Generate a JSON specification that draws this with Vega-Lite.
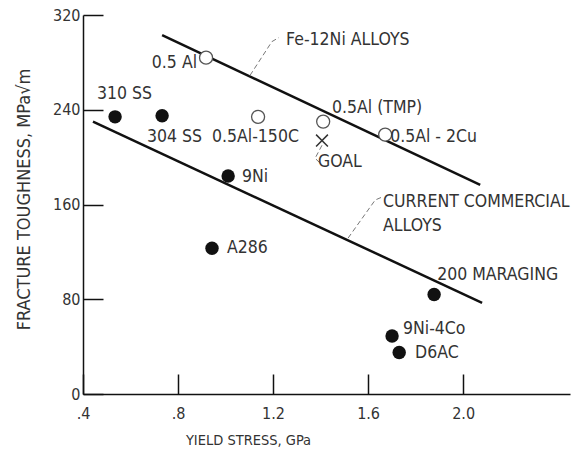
{
  "$schema": "https://vega.github.io/schema/vega-lite/v6.json",
  "width": 487,
  "height": 379,
  "autosize": {"type": "none"},
  "padding": {"left": 83, "top": 15, "right": 13, "bottom": 57},
  "background": "white",
  "config": {
    "view": {"stroke": null},
    "font": "DejaVu Sans Condensed, Liberation Sans, sans-serif",
    "axis": {
      "grid": false,
      "domainColor": "#111",
      "domainWidth": 1.5,
      "tickColor": "#111",
      "tickWidth": 1.5,
      "tickSize": -20,
      "labelFont": "DejaVu Sans Condensed, Liberation Sans, sans-serif",
      "labelFontSize": 16,
      "labelColor": "#333",
      "titleFont": "DejaVu Sans Condensed, Liberation Sans, sans-serif",
      "titleFontWeight": "normal",
      "titleColor": "#333"
    }
  },
  "datasets": {
    "points": [
      {"name": "310 SS", "stress": 0.535, "toughness": 234, "kind": "filled"},
      {"name": "304 SS", "stress": 0.733, "toughness": 235, "kind": "filled"},
      {"name": "9Ni", "stress": 1.011, "toughness": 184, "kind": "filled"},
      {"name": "A286", "stress": 0.943, "toughness": 123, "kind": "filled"},
      {"name": "200 MARAGING", "stress": 1.878, "toughness": 84, "kind": "filled"},
      {"name": "9Ni-4Co", "stress": 1.701, "toughness": 49, "kind": "filled"},
      {"name": "D6AC", "stress": 1.731, "toughness": 35, "kind": "filled"},
      {"name": "0.5 Al", "stress": 0.918, "toughness": 284, "kind": "open"},
      {"name": "0.5Al-150C", "stress": 1.137, "toughness": 234, "kind": "open"},
      {"name": "0.5Al (TMP)", "stress": 1.411, "toughness": 230, "kind": "open"},
      {"name": "0.5Al-2Cu", "stress": 1.672, "toughness": 219, "kind": "open"},
      {"name": "GOAL", "stress": 1.406, "toughness": 214, "kind": "goal"}
    ],
    "trends": [
      {"series": "Fe-12Ni alloys", "stress": 0.733, "toughness": 303},
      {"series": "Fe-12Ni alloys", "stress": 2.072, "toughness": 176.5},
      {"series": "Current commercial alloys", "stress": 0.442, "toughness": 230},
      {"series": "Current commercial alloys", "stress": 2.08, "toughness": 77}
    ],
    "leaders": [
      {"group": "fe", "order": 1, "stress": 1.103, "toughness": 269},
      {"group": "fe", "order": 2, "stress": 1.195, "toughness": 297.5},
      {"group": "fe", "order": 3, "stress": 1.225, "toughness": 301},
      {"group": "cc", "order": 1, "stress": 1.516, "toughness": 131.7},
      {"group": "cc", "order": 2, "stress": 1.63, "toughness": 163.8},
      {"group": "cc", "order": 3, "stress": 1.659, "toughness": 166.3},
      {"group": "goal", "order": 1, "stress": 1.406, "toughness": 210},
      {"group": "goal", "order": 2, "stress": 1.377, "toughness": 199},
      {"group": "goal", "order": 3, "stress": 1.398, "toughness": 195}
    ],
    "labels": [
      {"text": "0.5 Al", "stress": 0.88, "toughness": 279.5, "anchor": "right"},
      {"text": "310 SS", "stress": 0.459, "toughness": 253.3, "anchor": "left"},
      {"text": "304 SS", "stress": 0.669, "toughness": 217, "anchor": "left"},
      {"text": "0.5Al-150C", "stress": 0.943, "toughness": 217, "anchor": "left"},
      {"text": "9Ni", "stress": 1.069, "toughness": 183, "anchor": "left"},
      {"text": "Fe-12Ni ALLOYS", "stress": 1.255, "toughness": 299, "anchor": "left"},
      {"text": "0.5Al (TMP)", "stress": 1.448, "toughness": 241.5, "anchor": "left"},
      {"text": "0.5Al - 2Cu", "stress": 1.693, "toughness": 217, "anchor": "left"},
      {"text": "GOAL", "stress": 1.389, "toughness": 196, "anchor": "left"},
      {"text": "CURRENT COMMERCIAL", "stress": 1.663, "toughness": 162, "anchor": "left"},
      {"text": "ALLOYS", "stress": 1.663, "toughness": 142, "anchor": "left"},
      {"text": "A286", "stress": 1.006, "toughness": 123.3, "anchor": "left"},
      {"text": "200 MARAGING", "stress": 1.891, "toughness": 100.5, "anchor": "left"},
      {"text": "9Ni-4Co", "stress": 1.747, "toughness": 55, "anchor": "left"},
      {"text": "D6AC", "stress": 1.798, "toughness": 34.6, "anchor": "left"}
    ]
  },
  "encoding": {
    "x": {
      "field": "stress",
      "type": "quantitative",
      "scale": {"domain": [0.4, 2.45], "nice": false, "zero": false},
      "axis": {
        "values": [0.4, 0.8, 1.2, 1.6, 2.0],
        "labelExpr": "datum.value < 1 ? replace(format(datum.value, '.1f'), '0.', '.') : format(datum.value, '.1f')",
        "labelPadding": 31,
        "title": "YIELD STRESS, GPa",
        "titleFontSize": 14.5,
        "titleX": 165,
        "titleY": 46,
        "titleAlign": "center",
        "titleBaseline": "middle",
        "labelFlush": false
      }
    },
    "y": {
      "field": "toughness",
      "type": "quantitative",
      "scale": {"domain": [0, 320], "nice": false},
      "axis": {
        "values": [0, 80, 160, 240, 320],
        "labelPadding": 23,
        "title": "FRACTURE TOUGHNESS, MPa√m",
        "titleFontSize": 18,
        "titleX": -59,
        "titleY": 184,
        "titleAngle": -90,
        "titleAlign": "center",
        "titleBaseline": "middle",
        "labelFlush": false
      }
    }
  },
  "layer": [
    {
      "data": {"name": "trends"},
      "mark": {"type": "line", "color": "#111", "strokeWidth": 2.5},
      "encoding": {"detail": {"field": "series"}}
    },
    {
      "data": {"name": "leaders"},
      "mark": {"type": "line", "color": "#777", "strokeWidth": 1, "strokeDash": [5, 3]},
      "encoding": {"detail": {"field": "group"}, "order": {"field": "order"}}
    },
    {
      "data": {"name": "points"},
      "transform": [{"filter": "datum.kind === 'filled'"}],
      "mark": {"type": "point", "shape": "circle", "filled": true, "color": "#111", "size": 180, "opacity": 1}
    },
    {
      "data": {"name": "points"},
      "transform": [{"filter": "datum.kind === 'open'"}],
      "mark": {"type": "point", "shape": "circle", "filled": false, "fill": "white", "fillOpacity": 1, "stroke": "#555", "strokeWidth": 1.3, "size": 170, "opacity": 1}
    },
    {
      "data": {"name": "points"},
      "transform": [{"filter": "datum.kind === 'goal'"}],
      "mark": {"type": "point", "shape": "M-1,-1L1,1M-1,1L1,-1", "filled": false, "stroke": "#333", "strokeWidth": 1.5, "size": 140, "opacity": 1}
    },
    {
      "data": {"name": "labels"},
      "transform": [{"filter": "datum.anchor === 'left'"}],
      "mark": {"type": "text", "align": "left", "baseline": "middle", "fontSize": 17.5, "color": "#333", "font": "DejaVu Sans Condensed, Liberation Sans, sans-serif"},
      "encoding": {"text": {"field": "text"}}
    },
    {
      "data": {"name": "labels"},
      "transform": [{"filter": "datum.anchor === 'right'"}],
      "mark": {"type": "text", "align": "right", "baseline": "middle", "fontSize": 17.5, "color": "#333", "font": "DejaVu Sans Condensed, Liberation Sans, sans-serif"},
      "encoding": {"text": {"field": "text"}}
    }
  ]
}
